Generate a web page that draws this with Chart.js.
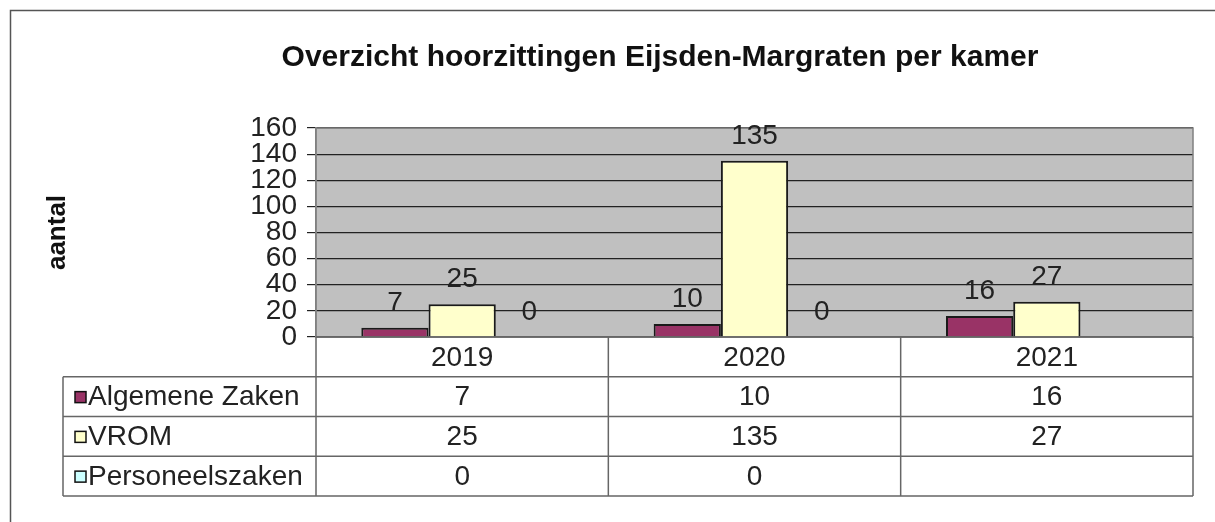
<!DOCTYPE html>
<html>
<head>
<meta charset="utf-8">
<script src="https://cdn.jsdelivr.net/npm/chart.js@4.4.1/dist/chart.umd.min.js"></script>
<style>
  html, body { margin: 0; padding: 0; background: #fff; }
  #wrap { width: 1215px; height: 522px; position: relative; }
</style>
</head>
<body>
<div id="wrap"><canvas id="kamerChart"></canvas></div>
<script>
// --- data ---
const jaren = ['2019', '2020', '2021'];
const algemeneZaken = [7, 10, 16];
const vrom = [25, 135, 27];
const personeelszaken = [0, 0, null];
const reeksNamen = ['Algemene Zaken', 'VROM', 'Personeelszaken'];
const yTicks = [0, 20, 40, 60, 80, 100, 120, 140, 160];

const titel = 'Overzicht hoorzittingen Eijsden-Margraten per kamer';
const asTitel = 'aantal';
const FONT = '"Liberation Sans", Arial, sans-serif';

// achtergrond plotgebied + buitenrand + titel
const achtergrondPlugin = {
    id: 'achtergrond',
    beforeDraw(chart) {
        const { ctx, chartArea: a } = chart;
        ctx.save();
        ctx.fillStyle = '#fff';
        ctx.fillRect(0, 0, chart.width, chart.height);
        ctx.fillStyle = '#c0c0c0';
        ctx.fillRect(a.left, a.top, a.right - a.left, a.bottom - a.top);
        // buitenrand (alleen boven en links zichtbaar)
        ctx.strokeStyle = '#555';
        ctx.lineWidth = 1.5;
        ctx.beginPath();
        ctx.moveTo(chart.width, 10.5);
        ctx.lineTo(10.5, 10.5);
        ctx.lineTo(10.5, chart.height);
        ctx.stroke();
        // titel
        ctx.fillStyle = '#111';
        ctx.font = 'bold 30px ' + FONT;
        ctx.textAlign = 'center';
        ctx.textBaseline = 'alphabetic';
        ctx.fillText(titel, 660, 66);
        ctx.restore();
    },
    beforeDatasetsDraw(chart) {
        const { ctx, chartArea: a } = chart;
        ctx.save();
        ctx.strokeStyle = '#808080';
        ctx.lineWidth = 1.5;
        ctx.strokeRect(a.left, a.top, a.right - a.left, a.bottom - a.top);
        ctx.restore();
    }
};

// waardes boven de staven
const labelPlugin = {
    id: 'waardeLabels',
    afterDatasetsDraw(chart) {
        const { ctx } = chart;
        ctx.save();
        ctx.font = '28px ' + FONT;
        ctx.fillStyle = '#222';
        ctx.textAlign = 'center';
        ctx.textBaseline = 'alphabetic';
        chart.data.datasets.forEach((ds, i) => {
            chart.getDatasetMeta(i).data.forEach((bar, j) => {
                const v = ds.data[j];
                if (v === null || v === undefined) return;
                ctx.fillText(String(v), bar.x, bar.y - 17);
            });
        });
        ctx.restore();
    }
};

// gegevenstabel onder de grafiek
const tabelPlugin = {
    id: 'gegevensTabel',
    afterDraw(chart) {
        const { ctx, chartArea: a } = chart;
        const xs = chart.scales.x;
        const n = jaren.length;
        const kolB = (a.right - a.left) / n;
        const rijH = 39.75;
        const links = 63;
        const y0 = a.bottom;
        const yEind = y0 + rijH * 4;

        ctx.save();
        ctx.strokeStyle = '#666';
        ctx.lineWidth = 1.5;
        ctx.beginPath();
        // horizontale lijnen
        ctx.moveTo(a.left, y0); ctx.lineTo(a.right, y0);
        for (let r = 1; r <= 4; r++) {
            ctx.moveTo(links, y0 + r * rijH); ctx.lineTo(a.right, y0 + r * rijH);
        }
        // verticale lijnen
        ctx.moveTo(links, y0 + rijH); ctx.lineTo(links, yEind);
        for (let c = 0; c <= n; c++) {
            const x = a.left + c * kolB;
            ctx.moveTo(x, y0); ctx.lineTo(x, yEind);
        }
        ctx.stroke();

        ctx.font = '28px ' + FONT;
        ctx.fillStyle = '#222';
        ctx.textAlign = 'center';
        ctx.textBaseline = 'middle';
        jaren.forEach((j, i) => {
            ctx.fillText(j, xs.getPixelForValue(i), y0 + rijH / 2 + 1);
        });

        chart.data.datasets.forEach((ds, r) => {
            const yc = y0 + (r + 1.5) * rijH + 1;
            // legenda-vakje
            ctx.fillStyle = ds.backgroundColor;
            ctx.fillRect(75, yc - 6, 11, 11);
            ctx.strokeStyle = '#111';
            ctx.lineWidth = 1.5;
            ctx.strokeRect(75, yc - 6, 11, 11);
            ctx.fillStyle = '#222';
            ctx.textAlign = 'left';
            ctx.fillText(ds.label, 88, yc);
            ctx.textAlign = 'center';
            ds.data.forEach((v, i) => {
                if (v === null || v === undefined) return;
                ctx.fillText(String(v), xs.getPixelForValue(i), yc);
            });
        });
        ctx.restore();
    }
};

const reeksKleuren = ['#993366', '#ffffcc', '#ccffff'];

new Chart(document.getElementById('kamerChart'), {
    type: 'bar',
    data: {
        labels: jaren,
        datasets: [algemeneZaken, vrom, personeelszaken].map((d, i) => ({
            label: reeksNamen[i],
            data: d,
            backgroundColor: reeksKleuren[i],
            borderColor: '#1a1a1a',
            borderWidth: 2,
            categoryPercentage: 0.69,
            barPercentage: 1.0
        }))
    },
    options: {
        responsive: true,
        maintainAspectRatio: false,
        animation: false,
        layout: { padding: { top: 128, right: 22, bottom: 185, left: 0 } },
        plugins: {
            legend: { display: false },
            title: { display: false },
            tooltip: { enabled: false }
        },
        scales: {
            x: { display: false },
            y: {
                min: 0,
                max: 160,
                afterBuildTicks(scale) { scale.ticks = yTicks.map(v => ({ value: v })); },
                afterFit(scale) { scale.width = 316; },
                ticks: {
                    color: '#222',
                    padding: 10,
                    autoSkip: false,
                    font: { family: FONT, size: 28, lineHeight: 1 }
                },
                grid: { color: '#222', lineWidth: 1.2, tickLength: 9, drawTicks: true },
                border: { display: true, color: '#808080', width: 1.5 },
                title: {
                    display: true,
                    text: asTitel,
                    color: '#111',
                    font: { family: FONT, size: 26, weight: 'bold' },
                    padding: { top: 42, bottom: 0 }
                }
            }
        }
    },
    plugins: [achtergrondPlugin, labelPlugin, tabelPlugin]
});
</script>
</body>
</html>
